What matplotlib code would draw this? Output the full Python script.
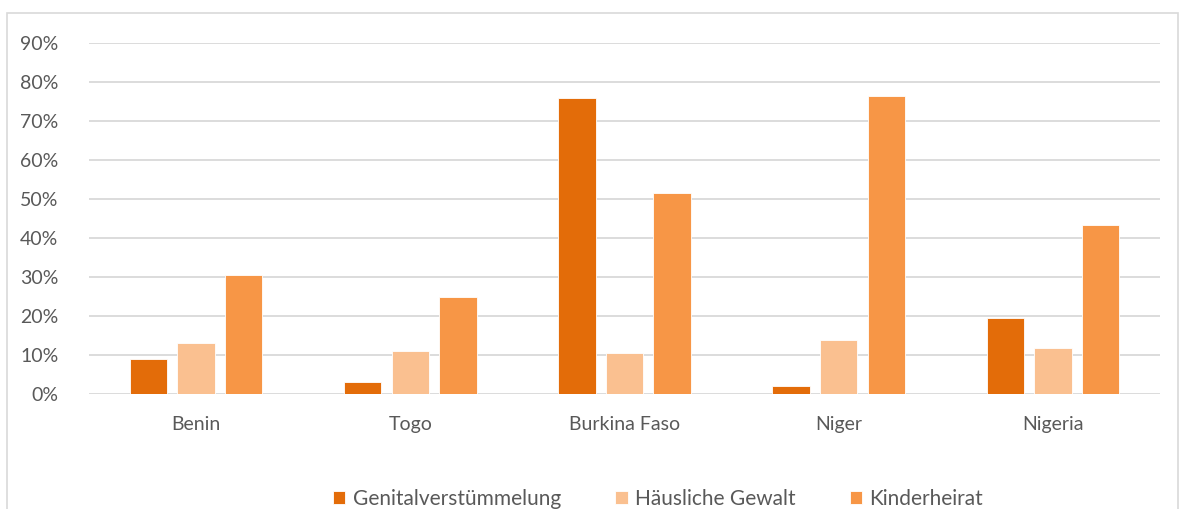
import matplotlib.pyplot as plt
import numpy as np
from matplotlib.patches import Rectangle
from matplotlib.ticker import PercentFormatter

plt.rcParams["font.family"] = ["Lato", "DejaVu Sans"]

countries = ["Benin", "Togo", "Burkina Faso", "Niger", "Nigeria"]
series = ["Genitalverstümmelung", "Häusliche Gewalt", "Kinderheirat"]
genital = [0.090, 0.031, 0.759, 0.020, 0.195]
haeuslich = [0.131, 0.110, 0.105, 0.138, 0.118]
kinderheirat = [0.305, 0.249, 0.515, 0.764, 0.433]
colors = ["#E36C09", "#FAC090", "#F79646"]

fig = plt.figure(figsize=(11.79, 5.09), dpi=100)
ax = fig.add_axes([89 / 1179, 115 / 509, 1071 / 1179, 351 / 509])

# light chart-area frame like the spreadsheet export
fig.patches.append(Rectangle((7 / 1179, -0.1), 1171 / 1179, 1.1 - 13 / 509,
                             transform=fig.transFigure, fill=False,
                             edgecolor="#D9D9D9", linewidth=1.2))

x = np.arange(len(countries))
width = 0.175
offset = 0.222
for i, (vals, name) in enumerate(zip([genital, haeuslich, kinderheirat], series)):
    ax.bar(x + (i - 1) * offset, vals, width, color=colors[i], label=name,
           edgecolor="white", linewidth=0.6, zorder=3)

ax.set_xlim(-0.5, len(countries) - 0.5)
ax.set_ylim(0, 0.9)
ax.set_yticks(np.arange(0, 0.91, 0.1))
ax.yaxis.set_major_formatter(PercentFormatter(1.0, decimals=0))
ax.set_xticks(x)
ax.set_xticklabels(countries)
ax.grid(axis="y", color="#D9D9D9", linewidth=1.3, zorder=0)
ax.set_axisbelow(True)
for s in ax.spines.values():
    s.set_visible(False)
ax.tick_params(axis="both", length=0, labelsize=14, colors="#595959")
ax.tick_params(axis="y", pad=22)
ax.tick_params(axis="x", pad=16)

fig.legend(loc="center", bbox_to_anchor=(658 / 1179, 1 - 499 / 509), ncol=3,
           frameon=False, fontsize=15, handlelength=0.6, handleheight=0.6,
           columnspacing=2.6, handletextpad=0.35, labelcolor="#595959")

fig.savefig("out.png", dpi=100)
